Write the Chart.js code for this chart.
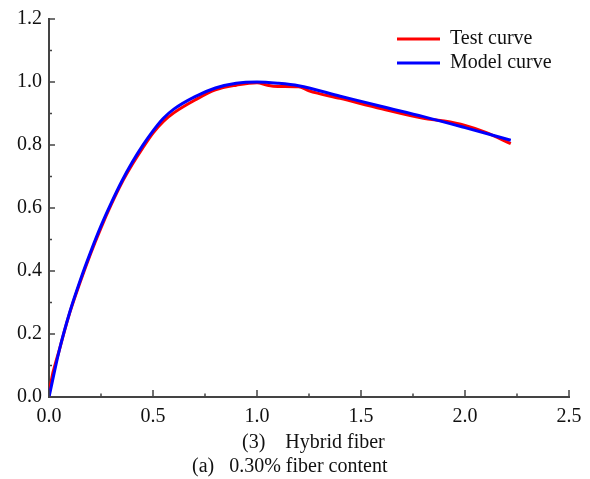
<!DOCTYPE html>
<html>
<head>
<meta charset="utf-8">
<script src="https://cdn.jsdelivr.net/npm/chart.js@4/dist/chart.umd.min.js"></script>
<style>
html, body { margin: 0; padding: 0; background: #fff; }
#wrap { position: relative; width: 590px; height: 479px; }
</style>
</head>
<body>
<div id="wrap"><canvas id="curveChart" width="590" height="479"></canvas></div>
<script>
// test curve (normalized strain, normalized stress)
const testX = [0, 0.005, 0.05, 0.1, 0.15, 0.2, 0.25, 0.3, 0.35, 0.4, 0.45, 0.5, 0.55, 0.6, 0.7, 0.8, 0.9, 1.0, 1.05, 1.1, 1.2, 1.25, 1.4, 1.6, 1.8, 1.9, 2.0, 2.1, 2.22];
const testY = [0, 0.03, 0.15, 0.268, 0.365, 0.455, 0.537, 0.612, 0.68, 0.738, 0.79, 0.838, 0.875, 0.902, 0.942, 0.975, 0.99, 0.998, 0.99, 0.986, 0.985, 0.972, 0.948, 0.915, 0.885, 0.876, 0.862, 0.84, 0.804];

// model curve
const modelX = [0, 0.05, 0.1, 0.15, 0.2, 0.25, 0.3, 0.35, 0.4, 0.45, 0.5, 0.55, 0.6, 0.7, 0.8, 0.9, 1.0, 1.1, 1.2, 1.4, 1.6, 1.8, 2.0, 2.22];
const modelY = [0, 0.15, 0.27, 0.37, 0.46, 0.543, 0.617, 0.685, 0.745, 0.798, 0.845, 0.885, 0.914, 0.953, 0.981, 0.996, 1.0, 0.996, 0.988, 0.955, 0.922, 0.89, 0.855, 0.815];

const seriesNames = ["Test curve", "Model curve"];
const seriesColors = ["#ff0000", "#0000ff"];

const xMajor = [0, 0.5, 1.0, 1.5, 2.0, 2.5];
const xMinor = [0.25, 0.75, 1.25, 1.75, 2.25];
const yMajor = [0, 0.2, 0.4, 0.6, 0.8, 1.0, 1.2];
const yMinor = [0.1, 0.3, 0.5, 0.7, 0.9, 1.1];

const captionLines = ["(3)    Hybrid fiber", "(a)   0.30% fiber content"];

const FONT = "'Liberation Serif', 'Times New Roman', serif";
const AXIS = "#444444";

function toPoints(xs, ys) {
  return xs.map((x, i) => ({ x: x, y: ys[i] }));
}

// inward ticks, legend and caption
const decorations = {
  id: "decorations",
  afterDraw(chart) {
    const ctx = chart.ctx;
    const xs = chart.scales.x;
    const ys = chart.scales.y;
    const area = chart.chartArea;
    ctx.save();
    ctx.strokeStyle = AXIS;
    ctx.lineWidth = 1.5;
    ctx.beginPath();
    xMajor.forEach(v => {
      const px = xs.getPixelForValue(v);
      ctx.moveTo(px, area.bottom);
      ctx.lineTo(px, area.bottom - 7);
    });
    xMinor.forEach(v => {
      const px = xs.getPixelForValue(v);
      ctx.moveTo(px, area.bottom);
      ctx.lineTo(px, area.bottom - 3.5);
    });
    yMajor.forEach(v => {
      const py = ys.getPixelForValue(v);
      ctx.moveTo(area.left, py);
      ctx.lineTo(area.left + 6, py);
    });
    yMinor.forEach(v => {
      const py = ys.getPixelForValue(v);
      ctx.moveTo(area.left, py);
      ctx.lineTo(area.left + 3, py);
    });
    ctx.stroke();

    // legend
    ctx.font = "20px " + FONT;
    ctx.textBaseline = "middle";
    ctx.fillStyle = "#111";
    seriesNames.forEach((name, i) => {
      const y = 39 + i * 24;
      ctx.strokeStyle = seriesColors[i];
      ctx.lineWidth = 3;
      ctx.beginPath();
      ctx.moveTo(397, y);
      ctx.lineTo(440, y);
      ctx.stroke();
      ctx.fillText(name, 450, y);
    });

    // caption
    ctx.textBaseline = "alphabetic";
    ctx.fillText(captionLines[0], 242, 448);
    ctx.fillText(captionLines[1], 192, 472);
    ctx.restore();
  }
};

new Chart(
document.getElementById("curveChart"),
{
type: "line",
data: {
datasets: [
{
label: seriesNames[0],
data: toPoints(testX, testY),
borderColor: seriesColors[0],
borderWidth: 3,
pointRadius: 0,
cubicInterpolationMode: "monotone",
order: 2
},
{
label: seriesNames[1],
data: toPoints(modelX, modelY),
borderColor: seriesColors[1],
borderWidth: 3,
pointRadius: 0,
cubicInterpolationMode: "monotone",
order: 1
}
]
},
options: {
responsive: false,
animation: false,
layout: { padding: { left: 0, right: 21, top: 18, bottom: 52 } },
plugins: {
legend: { display: false },
tooltip: { enabled: false }
},
scales: {
x: {
type: "linear",
min: 0,
max: 2.5,
grid: { display: false, drawTicks: false },
border: { display: true, color: AXIS, width: 2 },
ticks: {
stepSize: 0.5,
padding: 8,
color: "#111",
font: { family: FONT, size: 20 },
callback: v => v.toFixed(1)
},
afterFit: s => { s.height = 30; }
},
y: {
min: 0,
max: 1.2,
grid: { display: false, drawTicks: false },
border: { display: true, color: AXIS, width: 2 },
ticks: {
stepSize: 0.2,
padding: 7,
color: "#111",
font: { family: FONT, size: 20 },
callback: v => v.toFixed(1)
},
afterFit: s => { s.width = 49; }
}
}
},
plugins: [decorations]
}
);
</script>
</body>
</html>
